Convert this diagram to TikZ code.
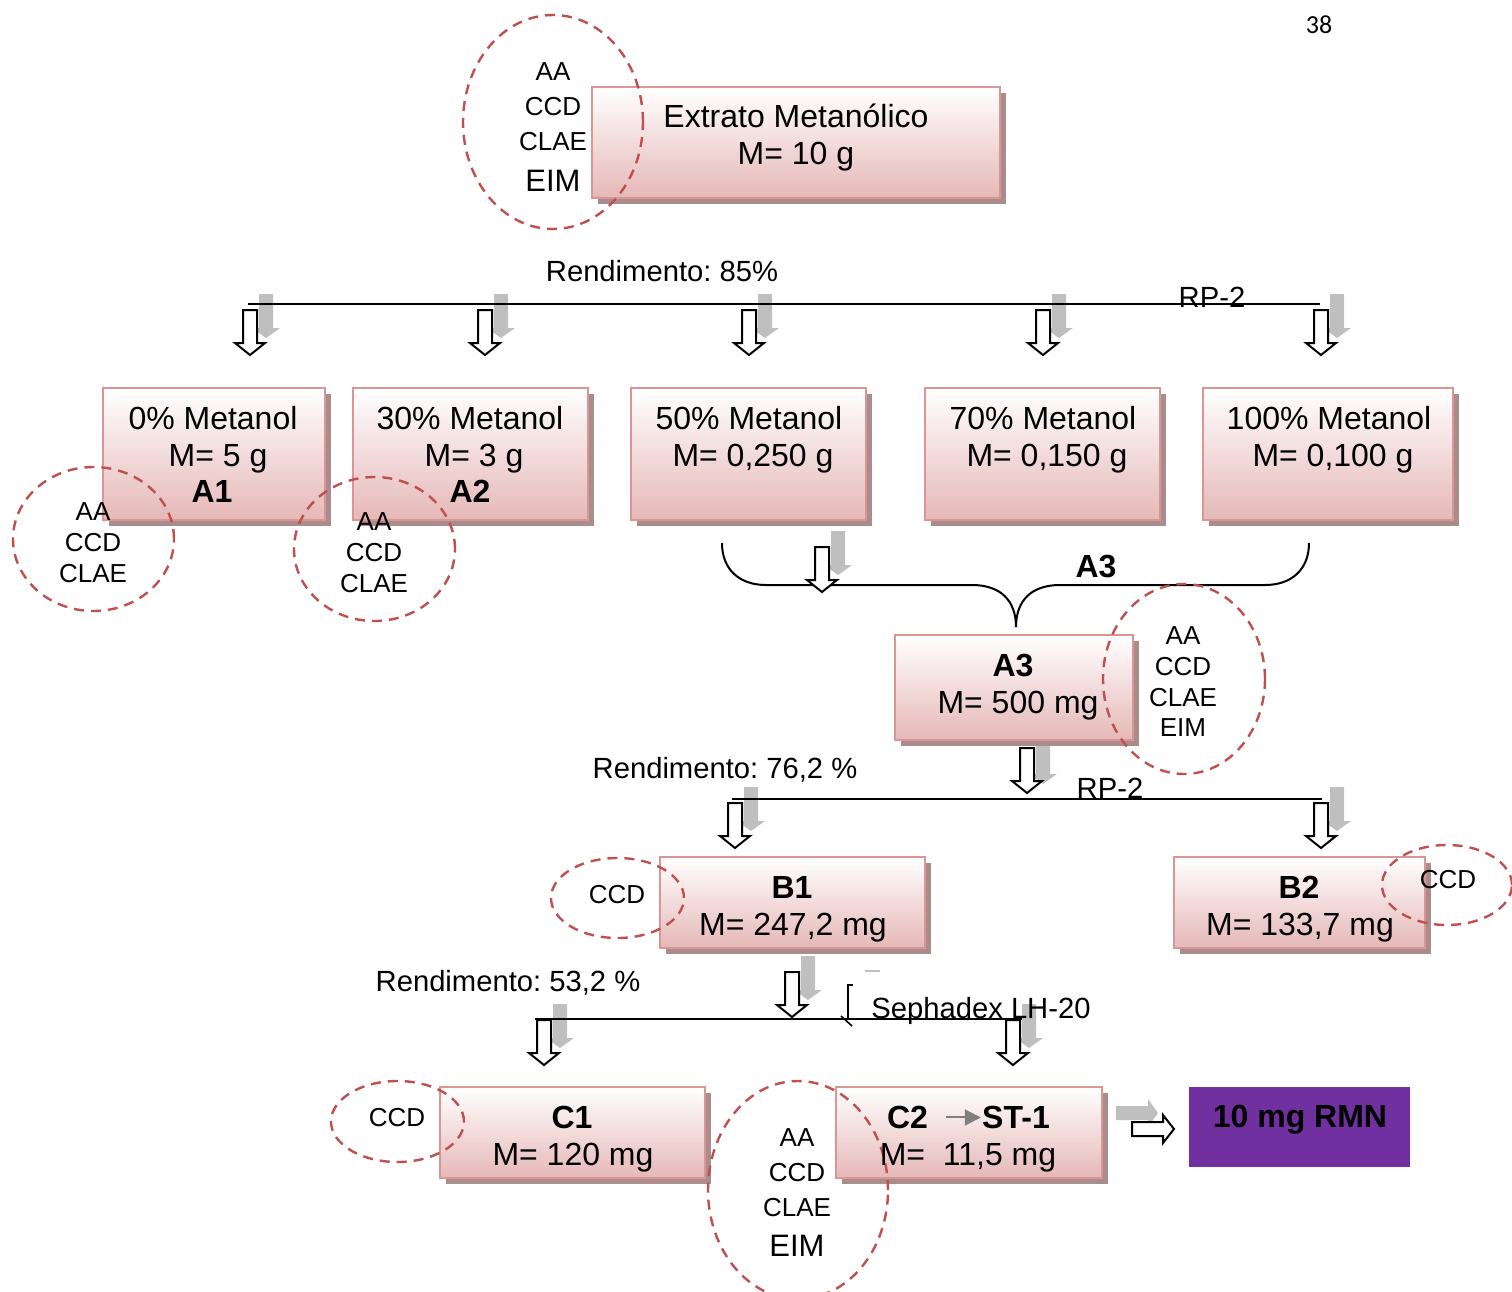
\documentclass[tikz,border=0pt]{standalone}
\usepackage{fontspec}
\setmainfont{Liberation Sans}
\newfontfamily\pagefont{Carlito}
\usetikzlibrary{shapes.geometric,shadows,arrows.meta}
\definecolor{boxline}{RGB}{217,150,148}
\definecolor{boxbot}{RGB}{229,184,183}
\definecolor{boxshadow}{RGB}{170,140,140}
\definecolor{dashred}{RGB}{192,80,77}
\definecolor{arrowgray}{RGB}{191,191,191}
\definecolor{rmnpurple}{RGB}{112,48,160}
\definecolor{stgray}{RGB}{127,127,127}
\frenchspacing
\begin{document}
\begin{tikzpicture}[x=0.5pt,y=-0.5pt,
  pinkbox/.style={draw=boxline, line width=1.2pt, top color=white, bottom color=boxbot,
    drop shadow={shadow xshift=3pt, shadow yshift=-3pt, fill=boxshadow, opacity=1}, inner sep=0pt},
  dashell/.style={ellipse, draw=dashred, line width=1.2pt, dash pattern=on 5pt off 3.5pt, inner sep=0pt},
  big/.style={font=\fontsize{16}{19}\selectfont, anchor=base, inner sep=0pt},
  bigb/.style={font=\fontsize{16}{19}\selectfont\bfseries, anchor=base, inner sep=0pt},
  small/.style={font=\fontsize{13}{15}\selectfont, anchor=base, inner sep=0pt},
  eim/.style={font=\fontsize{15.5}{18}\selectfont, anchor=base, inner sep=0pt},
  lab/.style={font=\fontsize{14.6}{17}\selectfont, anchor=base, inner sep=0pt},
  hline/.style={line width=0.8pt},
  hdown/.pic={\draw[line width=1pt, fill=white] (-7,0) -- (7,0) -- (7,33) -- (15,33) -- (0,45) -- (-15,33) -- (-7,33) -- cycle;},
  gdown/.pic={\fill[arrowgray] (-7,0) -- (7,0) -- (7,34) -- (14,34) -- (0,44) -- (-14,34) -- (-7,34) -- cycle;},
  hright/.pic={\draw[line width=1pt, fill=white] (0,-7) -- (0,7) -- (31,7) -- (31,14) -- (42,0) -- (31,-14) -- (31,-7) -- cycle;},
  gright/.pic={\fill[arrowgray] (0,-7) -- (0,7) -- (32,7) -- (32,14) -- (42,0) -- (32,-14) -- (32,-7) -- cycle;}
]
\useasboundingbox (0,0) rectangle (1512,1292);
\clip (0,0) rectangle (1512,1292);

% gray shadow arrows (behind)
\foreach \cx in {250,485,749,1043,1321} \pic at (\cx+16,294) {gdown};
\pic at (838,531) {gdown};
\pic at (1043,740) {gdown};
\pic at (751,787) {gdown};
\pic at (1337,787) {gdown};
\pic at (808,956) {gdown};
\pic at (560,1004) {gdown};
\pic at (1029,1004) {gdown};
\pic at (1116,1113) {gright};

% horizontal lines
\coordinate (l1a) at (248,304); \coordinate (l1b) at (1320,304);
\coordinate (l2a) at (732,799); \coordinate (l2b) at (1322,799);
\coordinate (l3a) at (535,1019); \coordinate (l3b) at (1022,1019);
\draw[hline] (l1a) -- (l1b);
\draw[hline] (l2a) -- (l2b);
\draw[hline] (l3a) -- (l3b);

% brace
\draw[line width=1pt] (722,543) .. controls (722,570) and (740,585) .. (766,585) -- (972,585)
  .. controls (1000,585) and (1016,600) .. (1016,627)
  .. controls (1016,600) and (1032,585) .. (1060,585) -- (1265,585)
  .. controls (1291,585) and (1309,570) .. (1309,543);

% small bracket and dash near Sephadex
\draw[line width=0.8pt] (853,985) -- (848,985) -- (848,1018);
\draw[line width=0.8pt] (841,1016) -- (852,1026);
\draw[arrowgray, line width=1pt] (865,971) -- (880,971);

% boxes
\node[pinkbox, minimum width=204pt, minimum height=55.5pt] (main) at (796,142.5) {};
\node[pinkbox, minimum width=111pt, minimum height=66pt] (b0) at (214,454) {};
\node[pinkbox, minimum width=117.5pt, minimum height=66pt] (b30) at (470.5,454) {};
\node[pinkbox, minimum width=117.5pt, minimum height=66pt] (b50) at (748.5,454) {};
\node[pinkbox, minimum width=117.5pt, minimum height=66pt] (b70) at (1042.5,454) {};
\node[pinkbox, minimum width=125pt, minimum height=66pt] (b100) at (1328,454) {};
\node[pinkbox, minimum width=119pt, minimum height=52.5pt] (a3) at (1014,687.5) {};
\node[pinkbox, minimum width=132.5pt, minimum height=45.5pt] (bb1) at (792.5,902.5) {};
\node[pinkbox, minimum width=125.5pt, minimum height=45.5pt] (bb2) at (1299.5,902.5) {};
\node[pinkbox, minimum width=132.5pt, minimum height=45.5pt] (cc1) at (572.5,1132.5) {};
\node[pinkbox, minimum width=133pt, minimum height=45.5pt] (cc2) at (969,1132.5) {};
\node[fill=rmnpurple, inner sep=0pt, minimum width=110.5pt, minimum height=40pt] (rmn) at (1299.5,1127) {};

% hollow arrows
\foreach \cx in {250,485,749,1043,1321} \pic at (\cx,310) {hdown};
\pic at (822,547) {hdown};
\pic at (1027,748) {hdown};
\pic at (735,803) {hdown};
\pic at (1321,803) {hdown};
\pic at (792,972) {hdown};
\pic at (544,1020) {hdown};
\pic at (1013,1020) {hdown};
\pic at (1132,1129) {hright};

% dashed ellipses
\node[dashell, minimum width=90pt, minimum height=107pt] (e0) at (553,122) {};
\node[dashell, minimum width=80.5pt, minimum height=72pt] (e1) at (93.5,539) {};
\node[dashell, minimum width=80.5pt, minimum height=72pt] (e2) at (374.5,549) {};
\node[dashell, minimum width=81pt, minimum height=95pt] (e3) at (1184,679) {};
\node[dashell, minimum width=66.5pt, minimum height=40pt] (e4) at (617.5,898) {};
\node[dashell, minimum width=65pt, minimum height=40pt] (e5) at (1447,885) {};
\node[dashell, minimum width=66.5pt, minimum height=40.5pt] (e6) at (397.5,1121.5) {};
\node[dashell, minimum width=90pt, minimum height=109pt] (e7) at (798,1190) {};

% texts
\node[font=\pagefont\fontsize{13}{15}\selectfont, anchor=base, inner sep=0pt] (pg) at (1319,33) {38};
\node[big] (t1) at (796,127.5) {Extrato Metanólico};
\node[big] (t2) at (796,164.5) {M= 10 g};
\node[lab] (r1) at (662,281.5) {Rendimento: 85\%};
\node[lab] (rp1) at (1212,307.5) {RP-2};
\node[big] (t0a) at (213,429.5) {0\% Metanol};
\node[big] (t0b) at (218,466.5) {M= 5 g};
\node[bigb] (t0c) at (212,502.5) {A1};
\node[big] (t30a) at (470,429.5) {30\% Metanol};
\node[big] (t30b) at (474,466.5) {M= 3 g};
\node[bigb] (t30c) at (470,502.5) {A2};
\node[big] (t50a) at (749,429.5) {50\% Metanol};
\node[big] (t50b) at (753,466.5) {M= 0,250 g};
\node[big] (t70a) at (1043,429.5) {70\% Metanol};
\node[big] (t70b) at (1047,466.5) {M= 0,150 g};
\node[big] (t100a) at (1329,429.5) {100\% Metanol};
\node[big] (t100b) at (1333,466.5) {M= 0,100 g};
\node[bigb] (bra3) at (1096,577.5) {A3};
\node[bigb] (a3a) at (1013,676.5) {A3};
\node[big] (a3b) at (1018,713.5) {M= 500 mg};
\node[lab] (r2) at (725,778.5) {Rendimento: 76,2 \%};
\node[lab] (rp2) at (1110,798.5) {RP-2};
\node[bigb] (b1a) at (792,898.5) {B1};
\node[big] (b1b) at (793,935.5) {M= 247,2 mg};
\node[bigb] (b2a) at (1299,898.5) {B2};
\node[big] (b2b) at (1300,935.5) {M= 133,7 mg};
\node[lab] (r3) at (508,991.5) {Rendimento: 53,2 \%};
\node[lab] (seph) at (981,1018.5) {Sephadex LH-20};
\node[bigb] (c1a) at (572,1128.5) {C1};
\node[big] (c1b) at (573,1165.5) {M= 120 mg};
\node[bigb] (c2a) at (907.5,1128.5) {C2};
\node[bigb] (st1) at (1016,1128.5) {ST-1};
\draw[stgray, line width=1pt, -{Triangle[length=8pt,width=8pt]}] ([xshift=9pt]c2a.east) -- ([xshift=-0.5pt]st1.west);
\node[big] (c2b) at (968,1165.5) {M=~ 11,5 mg};
\node[bigb] (rmnt) at (1300,1127.5) {10 mg RMN};
% ellipse texts
\node[small] (e0a) at (553,80.3) {AA};
\node[small] (e0b) at (553,115.3) {CCD};
\node[small] (e0c) at (553,150.3) {CLAE};
\node[eim] (e0d) at (553,191) {EIM};
\node[small] (e1a) at (93,520.3) {AA};
\node[small] (e1b) at (93,551.3) {CCD};
\node[small] (e1c) at (93,582.3) {CLAE};
\node[small] (e2a) at (374,530.3) {AA};
\node[small] (e2b) at (374,561.3) {CCD};
\node[small] (e2c) at (374,592.3) {CLAE};
\node[small] (e3a) at (1183,644.3) {AA};
\node[small] (e3b) at (1183,675.3) {CCD};
\node[small] (e3c) at (1183,706.3) {CLAE};
\node[small] (e3d) at (1183,736.3) {EIM};
\node[small] (e4a) at (617,903.3) {CCD};
\node[small] (e5a) at (1448,888.3) {CCD};
\node[small] (e6a) at (397,1126.3) {CCD};
\node[small] (e7a) at (797,1146.3) {AA};
\node[small] (e7b) at (797,1181.3) {CCD};
\node[small] (e7c) at (797,1216.3) {CLAE};
\node[eim] (e7d) at (797,1256) {EIM};
\end{tikzpicture}
\end{document}
